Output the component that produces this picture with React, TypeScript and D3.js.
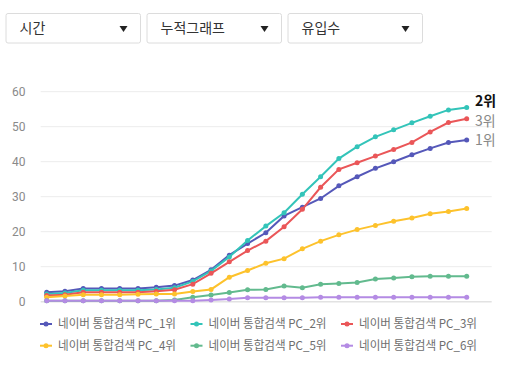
import React from "react";
import * as d3 from "d3";

const hours = d3.range(24).map((h) => `${h}시`);
const seriesNames = [
  "네이버 통합검색 PC_1위",
  "네이버 통합검색 PC_2위",
  "네이버 통합검색 PC_3위",
  "네이버 통합검색 PC_4위",
  "네이버 통합검색 PC_5위",
  "네이버 통합검색 PC_6위",
];
const rank1 = [2.7, 3.0, 3.8, 3.8, 3.8, 3.8, 4.1, 4.6, 6.2, 9.1, 13.3, 16.6, 19.7, 24.5, 27.0, 29.5, 33.1, 35.7, 38.1, 40.0, 42.0, 43.8, 45.5, 46.2];
const rank2 = [2.2, 2.5, 3.3, 3.3, 3.3, 3.3, 3.5, 4.0, 5.8, 8.8, 12.8, 17.5, 21.6, 25.4, 30.7, 35.7, 40.9, 44.3, 47.1, 49.1, 51.1, 53.0, 54.8, 55.5];
const rank3 = [1.8, 2.0, 2.7, 2.7, 2.7, 2.7, 3.0, 3.4, 5.0, 8.1, 11.4, 14.6, 17.3, 21.4, 26.4, 32.7, 37.8, 39.7, 41.6, 43.5, 45.5, 48.5, 51.2, 52.3];
const rank4 = [1.3, 1.6, 2.0, 2.0, 2.0, 2.1, 2.2, 2.2, 2.9, 3.5, 7.0, 8.9, 11.0, 12.3, 15.1, 17.3, 19.1, 20.6, 21.8, 23.0, 23.9, 25.1, 25.8, 26.6];
const rank5 = [0.3, 0.3, 0.3, 0.3, 0.3, 0.3, 0.3, 0.5, 1.3, 1.9, 2.6, 3.4, 3.5, 4.5, 4.0, 5.0, 5.2, 5.5, 6.5, 6.8, 7.1, 7.3, 7.3, 7.3];
const rank6 = [0.3, 0.3, 0.3, 0.3, 0.3, 0.3, 0.3, 0.3, 0.3, 0.5, 0.8, 1.1, 1.1, 1.1, 1.1, 1.3, 1.3, 1.3, 1.3, 1.3, 1.3, 1.3, 1.3, 1.3];
const seriesValues = [rank1, rank2, rank3, rank4, rank5, rank6];
const colors = ["#5558b9", "#33c4b9", "#ea5658", "#fdc22c", "#62ba8e", "#b48be4"];
const yTicks = [0, 10, 20, 30, 40, 50, 60];
const dropdowns = ["시간", "누적그래프", "유입수"];
const endLabels = [
  { series: 1, text: "2위", bold: true, dy: -6 },
  { series: 2, text: "3위", bold: false, dy: 2.5 },
  { series: 0, text: "1위", bold: false, dy: 0 },
];

const KR = "'Noto Sans CJK KR', 'Noto Sans', sans-serif";

export default function App() {
  const x = d3.scalePoint<string>().domain(hours).range([46.7, 466.7]);
  const y = d3.scaleLinear().domain([0, 60]).range([301.7, 91.7]);
  const line = d3
    .line<number>()
    .x((_, i) => x(hours[i]) as number)
    .y((d) => y(d));

  return (
    <div style={{ position: "absolute", left: 0, top: 0 }}>
      <svg width={519} height={369} style={{ display: "block", background: "#fff" }}>
        {dropdowns.map((t, i) => {
          const bx = 5.5 + i * 141;
          return (
            <g key={t}>
              <rect x={bx + 0.5} y={13.5} width={134.5} height={29.5} rx={2} fill="#fff" stroke="#dcdcdc" />
              <text x={bx + 14} y={33} fontFamily={KR} fontSize={14} fill="#333">
                {t}
              </text>
              <path d={`M${bx + 114},${26} l8,0 l-4,6 z`} fill="#222" />
            </g>
          );
        })}

        {yTicks.map((t) => (
          <g key={t}>
            <line
              x1={40.7}
              x2={491.7}
              y1={y(t)}
              y2={y(t)}
              stroke={t === 0 ? "#e2e2e2" : "#ececec"}
              strokeWidth={t === 0 ? 1.5 : 1}
            />
            <text
              x={25.5}
              y={y(t)}
              dy="0.35em"
              textAnchor="end"
              fontFamily="Roboto, sans-serif"
              fontSize={12}
              fill="#8a8a8a"
            >
              {t}
            </text>
          </g>
        ))}

        {seriesValues.map((vals, s) => (
          <g key={s}>
            <path d={line(vals) as string} fill="none" stroke={colors[s]} strokeWidth={2} />
            {vals.map((v, i) => (
              <circle key={i} cx={x(hours[i]) as number} cy={y(v)} r={2.5} fill={colors[s]} />
            ))}
          </g>
        ))}

        {endLabels.map((l) => {
          const v = seriesValues[l.series];
          return (
            <text
              key={l.text}
              x={475}
              y={y(v[v.length - 1]) + l.dy}
              dy="0.35em"
              fontFamily={KR}
              fontSize={14}
              fontWeight={l.bold ? 700 : 400}
              fill={l.bold ? "#111" : "#888"}
            >
              {l.text}
            </text>
          );
        })}

        {seriesNames.map((n, i) => {
          const col = i % 3;
          const row = Math.floor(i / 3);
          const lx = 40 + col * 150.5;
          const ly = 324 + row * 21.7;
          return (
            <g key={n}>
              <line x1={lx} x2={lx + 12} y1={ly} y2={ly} stroke={colors[i]} strokeWidth={2} />
              <circle cx={lx + 6} cy={ly} r={2.5} fill={colors[i]} />
              <text
                x={lx + 18}
                y={ly}
                dy="0.35em"
                fontFamily={KR}
                fontSize={12}
                fill="#6e6e6e"
                textLength={118}
                lengthAdjust="spacingAndGlyphs"
              >
                {n}
              </text>
            </g>
          );
        })}
      </svg>
    </div>
  );
}
